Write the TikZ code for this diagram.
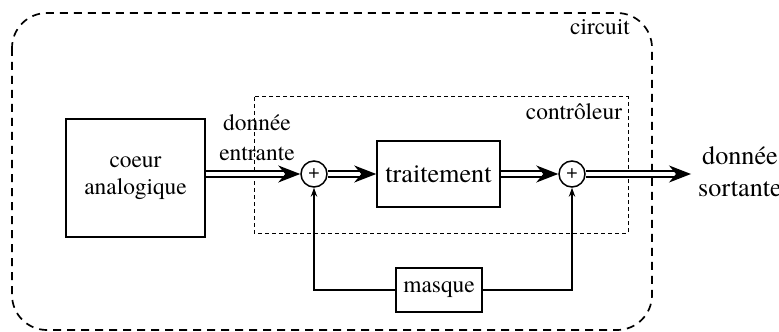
\documentclass[tikz,border=0pt]{standalone}
\usepackage{fontspec}
\setmainfont{texgyretermes-regular.otf}
\usetikzlibrary{arrows.meta}
\newcommand{\fsn}{\fontsize{11.7}{13.5}\selectfont}
\newcommand{\fsb}{\fontsize{13.1}{16}\selectfont}
\begin{document}
\begin{tikzpicture}[x=0.5pt,y=-0.5pt,
  blk/.style={draw, line width=0.75pt, inner sep=0pt, align=center, font=\fsn},
  sumnode/.style={circle, draw, line width=0.75pt, minimum size=13pt, inner sep=0pt, font=\fontsize{10}{10}\selectfont},
  dbl/.style={double, double distance=2.4pt, line width=0.8pt, -{Stealth[length=11pt,width=8.5pt,inset=3.5pt]}},
  fb/.style={line width=0.6pt, -{Stealth[length=4.5pt,width=3.2pt]}},
  lbl/.style={inner sep=0pt, align=center, font=\fsn}]
\useasboundingbox (0,0) rectangle (779,331);
% outer circuit box
\draw[line width=0.85pt, dash pattern=on 4pt off 3pt, rounded corners=17.5pt] (12,13) rectangle (652,330);
\node[lbl] (circ) at (600,27) {circuit};
% inner controleur box
\draw[line width=0.5pt, dash pattern=on 2pt off 1.5pt] (254,97) rectangle (628,233);
\node[lbl] (ctrl) at (574,112) {contrôleur};
% blocks
\node[blk, minimum width=69.5pt, minimum height=59pt] (coeur) at (135.5,178) {coeur\\analogique};
\node[blk, minimum width=61.5pt, minimum height=33pt, font=\fsb] (trait) at (438.5,174) {traitement};
\node[blk, minimum width=43pt, minimum height=22pt] (masque) at (439,290) {masque};
\node[sumnode] (s1) at (314,174) {+};
\node[sumnode] (s2) at (572,174) {+};
\coordinate (out) at (691,174);
% labels
\node[lbl, font=\fontsize{11.7}{15}\selectfont] (din) at (257,138) {donnée\\entrante};
\node[lbl, font=\fsb] (dout) at (740,172) {donnée\\sortante};
% data arrows
\draw[dbl] (coeur.east |- s1) -- (s1.west);
\draw[dbl] (s1.east) -- (trait.west);
\draw[dbl] (trait.east |- s2) -- (s2.west);
\draw[dbl] (s2.east) -- (out);
% feedback
\draw[fb] (masque.west) -| (s1.south);
\draw[fb] (masque.east) -| (s2.south);
\end{tikzpicture}
\end{document}
